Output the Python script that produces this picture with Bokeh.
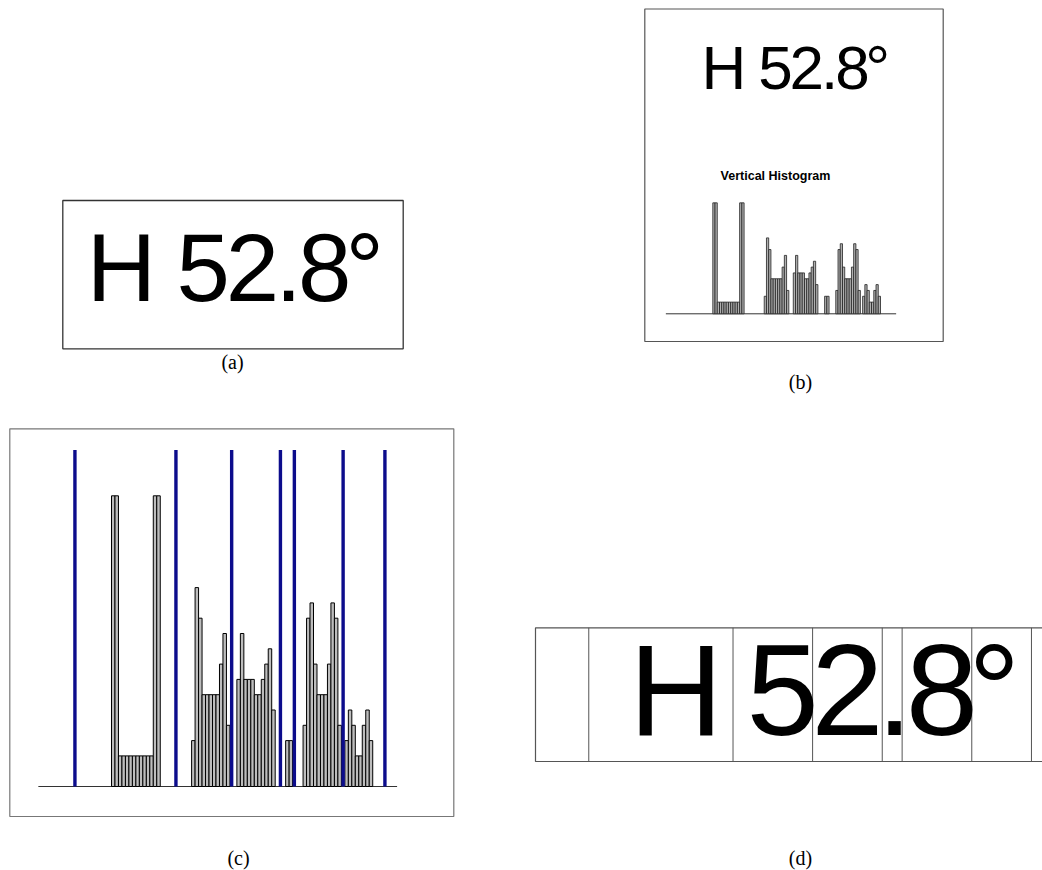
import numpy as np
from bokeh.plotting import figure
from bokeh.models import Range1d
from bokeh.core.properties import value
from bokeh.embed import file_html
from bokeh.resources import INLINE

# ---------------- data ----------------
text_chars = ["H", "5", "2", ".", "8", "°"]
# black-pixel count per image column (vertical projection of "H 52.8°")
column_counts = [19, 19, 2, 2, 2, 2, 2, 2, 2, 2, 2, 2, 19, 19,
                 0, 0, 0, 0, 0, 0, 0, 0, 0,
                 3, 13, 11, 6, 6, 6, 6, 6, 8, 10, 4,
                 0, 0,
                 7, 10, 7, 7, 7, 6, 6, 7, 8, 9, 5,
                 0, 0, 0,
                 3, 3,
                 0, 0, 0,
                 4, 11, 12, 8, 6, 6, 6, 8, 12, 11, 4,
                 0,
                 3, 5, 4, 2, 2, 4, 5, 3]
segment_cuts = [-10.5, 18.5, 34.5, 48.5, 52.5, 66.5, 78.5]
cut_height = 22
axis_span = [-21, 82]
panel_labels = ["(a)", "(b)", "(c)", "(d)"]
hist_title = "Vertical Histogram"

counts = np.array(column_counts, dtype=float)
cols = np.arange(len(counts))
nz = counts > 0

# character runs (contiguous non-zero columns)
runs = []
start = None
for i, c in enumerate(counts):
    if c > 0 and start is None:
        start = i
    if c == 0 and start is not None:
        runs.append((start, i))
        start = None
if start is not None:
    runs.append((start, len(counts)))
char_centers = [(a + b) / 2 for a, b in runs]

# ---------------- figure (screen-pixel base coordinates) ----------------
L, T, Wd, Ht = 0, 0, 1042, 870
p = figure(width=Wd, height=Ht, x_range=Range1d(L, L + Wd), y_range=Range1d(T + Ht, T),
           output_backend="svg", toolbar_location=None, min_border=0,
           x_axis_location=None, y_axis_location=None)
p.grid.visible = False
p.outline_line_color = None
p.background_fill_color = "white"
p.border_fill_color = "white"

xr, yr = {}, {}
def xmap(name, p0, s):
    xr[name] = Range1d((L - p0) / s, (L + Wd - p0) / s)
def ymap(name, base, s):
    yr[name] = Range1d((base - (T + Ht)) / s, (base - T) / s)

xmap("xa", 94.3, 3.8)
xmap("xb_txt", 706.7, 2.4)
xmap("xb", 712.3, 2.236); ymap("yb", 313.3, 5.84)
xmap("xc", 111.0, 3.483); ymap("yc", 786.0, 15.3)
xmap("xd", 640.5, 4.974)
p.extra_x_ranges = xr
p.extra_y_ranges = yr

FONT = value("Liberation Sans")
SERIF = value("Liberation Serif")
SHIFT = 0.377  # renderer places the alphabetic baseline this many em lower

def big_text(xname, baseline, size):
    p.text(x=char_centers, y=[baseline - SHIFT * size] * len(text_chars), text=text_chars,
           x_range_name=xname, text_font=FONT, text_font_size=f"{size}px",
           text_align="center", text_baseline="alphabetic", text_color="black")

# ---------------- panel (a) ----------------
p.quad(left=62.3, right=402.7, top=200, bottom=348.3, fill_color=None,
       line_color="#333333", line_width=1.3)
big_text("xa", 303.3, 96)

# ---------------- panel (b) ----------------
p.quad(left=644.3, right=942.7, top=8.5, bottom=341, fill_color=None,
       line_color="#555555", line_width=1.2)
big_text("xb_txt", 90.7, 62)
p.text(x=[775], y=[180 - SHIFT * 12.5], text=[hist_title], text_font=FONT,
       text_font_size="12.5px", text_font_style="bold", text_align="center",
       text_baseline="alphabetic", text_color="black")
p.segment(x0=[axis_span[0]], x1=[axis_span[1]], y0=[0], y1=[0], x_range_name="xb",
          y_range_name="yb", line_color="#333333", line_width=1)
p.quad(left=cols[nz], right=cols[nz] + 1, bottom=0, top=counts[nz], x_range_name="xb",
       y_range_name="yb", fill_color="#b0b0b0", line_color="#222222", line_width=0.8)

# ---------------- panel (c) ----------------
p.quad(left=9.3, right=453.3, top=428.3, bottom=816, fill_color=None,
       line_color="#777777", line_width=1.2)
p.segment(x0=[axis_span[0]], x1=[axis_span[1]], y0=[0], y1=[0], x_range_name="xc",
          y_range_name="yc", line_color="#333333", line_width=1)
p.quad(left=cols[nz], right=cols[nz] + 1, bottom=0, top=counts[nz], x_range_name="xc",
       y_range_name="yc", fill_color="#bdbdbd", line_color="black", line_width=1)
p.segment(x0=segment_cuts, x1=segment_cuts, y0=0, y1=cut_height, x_range_name="xc",
          y_range_name="yc", line_color="#0c0c8c", line_width=3.4)

# ---------------- panel (d) ----------------
p.quad(left=535, right=1060, top=627.3, bottom=761, fill_color=None,
       line_color="#555555", line_width=1.2)
p.segment(x0=segment_cuts, x1=segment_cuts, y0=[627.3] * len(segment_cuts),
          y1=[761] * len(segment_cuts), x_range_name="xd", line_color="#555555", line_width=1)
big_text("xd", 739, 130)

# ---------------- captions ----------------
p.text(x=[232, 800, 238, 800], y=[361, 381, 857, 857], text=panel_labels,
       text_font=SERIF, text_font_size="20px", text_align="center",
       text_baseline="middle", text_color="black")

open("out.html", "w").write(file_html(p, INLINE))
